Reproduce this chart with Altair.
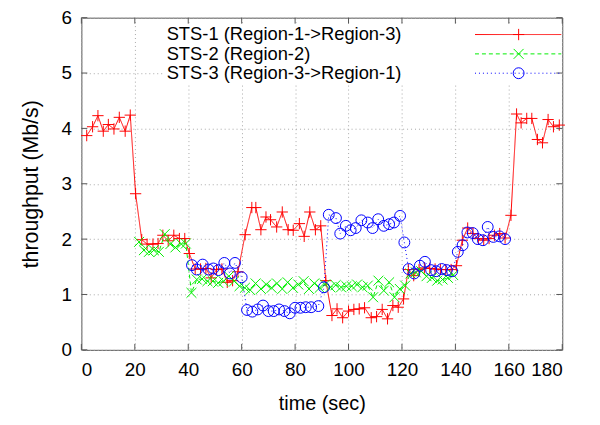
import altair as alt
import pandas as pd

# ---------------- data ----------------
red_t = [2, 4.2, 6.2, 8.2, 10.1, 12.2, 14.2, 16.4, 18.3, 20.3, 22.6, 24.6, 26.8, 28.7, 30.5,
         32.5, 34.6, 36.7, 38.7, 40.4, 42.6, 44.6, 46.6, 48.6, 50.6, 52.6, 54.6, 56.6, 58.6,
         61.3, 63.8, 65.3, 67.2, 69.1, 70.8, 73.1, 75.2, 77.4, 79.3, 81.6, 83.4, 85.5, 87.6,
         89.6, 91.5, 93.8, 95.7, 97.8, 100, 102, 104, 106, 108.5, 110.5, 112.6, 114.6, 116.6,
         118.6, 120.6, 122.4, 124.4, 126.4, 128.4, 130.4, 132.4, 134.4, 136.4, 138.4, 140.4,
         142.6, 144.6, 146.6, 148.6, 150.6, 152.6, 154.6, 156.6, 158.6, 160.8, 162.9, 164.6,
         166.7, 168.6, 170.7, 172.6, 174.7, 176.7, 178.9]
red_v = [3.87, 4.03, 4.23, 3.95, 4.07, 3.99, 4.2, 3.95, 4.24, 2.82, 1.99, 1.91, 1.91, 1.92, 2.07,
         1.97, 2.07, 2.01, 2.01, 1.74, 1.46, 1.46, 1.47, 1.3, 1.45, 1.46, 1.22, 1.25, 1.41,
         2.08, 2.57, 2.57, 2.17, 2.4, 2.35, 2.22, 2.49, 2.17, 2.16, 2.28, 2.05, 2.49, 2.17,
         2.24, 1.25, 0.62, 0.74, 0.58, 0.70, 0.73, 0.74, 0.76, 0.58, 0.6, 0.73, 0.56, 0.8,
         0.77, 0.92, 1.45, 1.34, 1.45, 1.48, 1.47, 1.46, 1.45, 1.45, 1.45, 1.52,
         1.98, 2.2, 2.1, 2.01, 1.98, 2.01, 2.07, 2.1, 2.02, 2.43, 4.26, 4.1,
         4.18, 4.18, 3.8, 3.74, 4.16, 4.03, 4.06]

green_t = [21.6, 23.4, 25.3, 27.1, 29, 31.2, 33.3, 35.2, 37.4, 39.1, 41.2, 43.2, 45.2, 47.2,
           49.2, 51.2, 53.2, 55.2, 57.2, 59.2, 61.2, 63.2, 65.2, 67.2, 69.2, 71.2, 73.2, 75.2,
           77.2, 79.2, 81.2, 83.2, 85.2, 87.2, 89.2, 91.2, 93.2, 95.2, 97.2, 99.2, 101.2, 103.2,
           105.2, 107.2, 109.2, 111.2, 113.2, 115.2, 117.2, 119.2, 121.2, 123.2, 125.2, 127.2,
           129.2, 131.2, 133.2, 135.2, 137.2, 139.2]
green_v = [1.95, 1.80, 1.77, 1.80, 1.77, 2.09, 1.91, 1.85, 1.91, 1.92, 1.03, 1.27, 1.28, 1.24,
           1.24, 1.21, 1.24, 1.33, 1.24, 1.15, 1.12, 1.08, 1.2, 1.1, 1.18, 1.12, 1.2, 1.1,
           1.22, 1.12, 1.18, 1.24, 1.1, 1.2, 1.12, 1.18, 1.13, 1.17, 1.13, 1.15, 1.15, 1.18,
           1.13, 1.16, 0.95, 1.25, 1.07, 1.22, 0.95, 1.1, 1.16, 1.38, 1.4, 1.42,
           1.33, 1.3, 1.25, 1.27, 1.3, 1.35]

blue_t = [41.4, 43.2, 45.4, 47.6, 49.4, 51.3, 53.5, 55.6, 57.5, 60, 62, 64, 66, 68, 70, 72, 74,
          76, 78, 80, 82, 84, 86, 88.7, 90.8, 92.6, 95.3, 96.9, 99, 100.8, 102.7, 104.8, 107.2,
          109, 111.1, 113.2, 115.2, 117, 119.3, 120.9, 122.5, 124.6, 126.7, 128.6, 130.9, 132.8,
          134.9, 136.8, 138.8, 140.9, 142.7, 144.5, 146.5, 148.4, 150.3, 152.1, 154.2, 156.5, 158.6]
blue_v = [1.53, 1.45, 1.54, 1.45, 1.47, 1.44, 1.57, 1.38, 1.57, 1.31, 0.72, 0.69, 0.73, 0.8, 0.7,
          0.7, 0.73, 0.7, 0.66, 0.76, 0.76, 0.77, 0.77, 0.79, 1.13, 2.44, 2.38, 2.1, 2.24, 2.16,
          2.2, 2.34, 2.3, 2.2, 2.36, 2.24, 2.27, 2.3, 2.42, 1.94, 1.46, 1.38, 1.52, 1.59, 1.44,
          1.42, 1.46, 1.44, 1.42, 1.77, 1.89, 2.12, 2.11, 2.0, 1.98, 2.22, 2.04, 2.05, 2.0]

series_names = ["STS-1 (Region-1->Region-3)", "STS-2 (Region-2)", "STS-3 (Region-3->Region-1)"]
x_ticks = [0, 20, 40, 60, 80, 100, 120, 140, 160, 180]
y_ticks = [0, 1, 2, 3, 4, 5, 6]

# ---------------- styling ----------------
W, H = 485, 335
FONT = "Liberation Sans"
BORDER = "#555555"
colors = ["#ff0000", "#00ee00", "#0000ff"]
dashes = [[1, 0], [4, 3], [1, 3]]
shapes = ["M-1,0L1,0M0,-1L0,1", "M-1,-1L1,1M-1,1L1,-1", "circle"]
sizes = [130, 100, 120]

xscale = alt.Scale(domain=[0, 180], nice=False, zero=False)
yscale = alt.Scale(domain=[0, 6], nice=False, zero=False)


def X(field):
    return alt.X(field, type="quantitative", scale=xscale,
                 axis=alt.Axis(values=x_ticks, title="time (sec)", format="d"))


def Y(field):
    return alt.Y(field, type="quantitative", scale=yscale,
                 axis=alt.Axis(values=y_ticks, title="throughput (Mb/s)", format="d"))


layers = []

tick_df = pd.DataFrame({"t": x_ticks})
ytick_df = pd.DataFrame({"v": y_ticks})

# opaque key box
one = pd.DataFrame({"a": [0]})
layers.append(alt.Chart(one).mark_rect(fill="white", stroke=None).encode(
    x=alt.value(83), x2=alt.value(W - 1), y=alt.value(7), y2=alt.value(66)))

series = [(red_t, red_v), (green_t, green_v), (blue_t, blue_v)]
for i, (ts, vs) in enumerate(series):
    df = pd.DataFrame({"t": ts, "v": vs})
    base = alt.Chart(df)
    layers.append(base.mark_line(color=colors[i], strokeWidth=1, strokeDash=dashes[i]).encode(
        x=X("t"), y=Y("v")))
    layers.append(base.mark_point(shape=shapes[i], size=sizes[i], filled=False,
                                  color=colors[i], strokeWidth=1, opacity=1).encode(
        x=X("t"), y=Y("v")))

# inward tick marks (bottom/top/left/right)
layers.append(alt.Chart(tick_df).mark_rule(color=BORDER, strokeWidth=1).encode(
    x=X("t"), y=alt.value(H), y2=alt.value(H - 6)))
layers.append(alt.Chart(tick_df).mark_rule(color=BORDER, strokeWidth=1).encode(
    x=X("t"), y=alt.value(0), y2=alt.value(6)))
layers.append(alt.Chart(ytick_df).mark_rule(color=BORDER, strokeWidth=1).encode(
    y=Y("v"), x=alt.value(0), x2=alt.value(6)))
layers.append(alt.Chart(ytick_df).mark_rule(color=BORDER, strokeWidth=1).encode(
    y=Y("v"), x=alt.value(W - 6), x2=alt.value(W)))

# key entries
key_y = [17, 36.5, 56]
for i, name in enumerate(series_names):
    layers.append(alt.Chart(one).mark_text(align="left", baseline="middle", font=FONT,
                                           fontSize=18.5, color="black").encode(
        x=alt.value(86), y=alt.value(key_y[i]), text=alt.value(name)))
    layers.append(alt.Chart(one).mark_rule(color=colors[i], strokeWidth=1,
                                           strokeDash=dashes[i]).encode(
        x=alt.value(397), x2=alt.value(484), y=alt.value(key_y[i])))
    layers.append(alt.Chart(one).mark_point(shape=shapes[i], size=sizes[i], filled=False,
                                            color=colors[i], strokeWidth=1, opacity=1).encode(
        x=alt.value(441), y=alt.value(key_y[i])))

chart = alt.layer(*layers).properties(
    width=W, height=H,
    autosize=alt.AutoSizeParams(type="none"),
    padding={"left": 74, "top": 8, "right": 30, "bottom": 70},
).configure_view(
    stroke=BORDER, strokeWidth=1
).configure_axis(
    grid=True, gridColor="#a8a8a8", gridDash=[1, 3], gridWidth=1, gridOpacity=1,
    domain=False, ticks=False,
    labelFont=FONT, labelFontSize=19, labelColor="black",
    titleFont=FONT, titleColor="black", titleFontWeight="normal",
).configure_axisX(
    labelPadding=11, titlePadding=14, titleFontSize=20
).configure_axisY(
    labelPadding=10, titlePadding=19, titleFontSize=21.5
)

chart.save("out.html", embed_options={"renderer": "svg", "actions": False})
